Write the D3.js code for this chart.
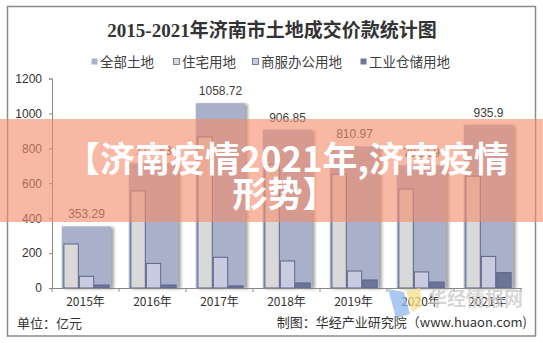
<!DOCTYPE html>
<html>
<head>
<meta charset="utf-8">
<script src="https://cdn.jsdelivr.net/npm/d3@7"></script>
<style>
  html, body { margin: 0; padding: 0; background: #fff; }
  svg { display: block; }
</style>
</head>
<body>
<svg id="chart" width="543" height="343"></svg>
<script>
// Jinan land transaction value by land use, 2015-2021 (unit: 100 million yuan)
const years = ["2015年", "2016年", "2017年", "2018年", "2019年", "2020年", "2021年"];
const totalLand = [353.29, 714.43, 1058.72, 906.85, 810.97, 702.59, 935.9];
const residential = [252, 556, 865, 706, 652, 567, 641];
const commercial = [67, 141, 176, 155, 97, 92, 181];
const industrial = [17, 17, 12, 29, 46, 34, 88];
const yTicks = [0, 200, 400, 600, 800, 1000, 1200];
const seriesNames = ["全部土地", "住宅用地", "商服办公用地", "工业仓储用地"];

const colors = {
  total: "#a9b1ca",
  residential: "#d9d9d9",
  commercial: "#c9cce1",
  industrial: "#6c7499",
  edge: "#5d6488"
};

const cjk = "'Noto Sans CJK SC', 'Liberation Sans', sans-serif";
const latin = "'Liberation Sans', 'Noto Sans CJK SC', sans-serif";

const svg = d3.select("#chart");

// shadow for the wide total bars
const defs = svg.append("defs");
const f = defs.append("filter").attr("id", "barShadow")
  .attr("x", "-10%").attr("y", "-10%").attr("width", "130%").attr("height", "130%");
f.append("feDropShadow").attr("dx", 3).attr("dy", 1).attr("stdDeviation", 1.6)
  .attr("flood-color", "#000").attr("flood-opacity", 0.35);

// outer frame
svg.append("rect").attr("x", 7.5).attr("y", 6.5).attr("width", 528).attr("height", 329.5)
  .attr("fill", "#fff").attr("stroke", "#8a8a8a").attr("stroke-width", 1.5);

// title
svg.append("text").attr("x", 272).attr("y", 37).attr("text-anchor", "middle")
  .attr("font-family", "'Liberation Serif', 'Noto Sans CJK SC', serif")
  .attr("font-weight", "bold").attr("font-size", 19).attr("fill", "#333")
  .text("2015-2021年济南市土地成交价款统计图");

// scales
const x = d3.scaleBand().domain(years).range([52, 521]).padding(0);
const y = d3.scaleLinear().domain([0, 1200]).range([288, 78.5]);
const bw = x.bandwidth();
const sub = d3.scaleBand().domain(["r", "c", "i"]).range([bw * 0.17, bw * 0.17 + bw * 0.69]).padding(0);

// legend
const legendItems = [
  { name: seriesNames[0], fill: colors.total, stroke: "none", x: 91 },
  { name: seriesNames[1], fill: colors.residential, stroke: colors.edge, x: 173 },
  { name: seriesNames[2], fill: colors.commercial, stroke: colors.edge, x: 252 },
  { name: seriesNames[3], fill: colors.industrial, stroke: "none", x: 360 }
];
const lg = svg.append("g");
legendItems.forEach(it => {
  lg.append("rect").attr("x", it.x + 0.5).attr("y", 58.5).attr("width", 6).attr("height", 6)
    .attr("fill", it.fill).attr("stroke", it.stroke).attr("stroke-width", 0.8);
  lg.append("text").attr("x", it.x + 9).attr("y", 66.5)
    .attr("font-family", cjk).attr("font-size", 13.5).attr("fill", "#404040")
    .text(it.name);
});

// y axis
const yAxis = svg.append("g").attr("transform", "translate(52,0)")
  .call(d3.axisLeft(y).tickValues(yTicks).tickSize(3).tickPadding(7).tickFormat(d3.format("d")));
yAxis.select(".domain").attr("stroke", "#888");
yAxis.selectAll(".tick line").attr("stroke", "#888");
yAxis.selectAll(".tick text").attr("font-family", latin).attr("font-size", 12).attr("fill", "#333");

// wide total bars
const plot = svg.append("g");
plot.selectAll("rect.total").data(years).join("rect")
  .attr("class", "total")
  .attr("x", d => x(d) + bw * 0.145)
  .attr("width", bw * 0.735)
  .attr("y", (d, i) => y(totalLand[i]))
  .attr("height", (d, i) => y(0) - y(totalLand[i]))
  .attr("fill", colors.total)
  .attr("filter", "url(#barShadow)");

// narrow bars per land use
const narrow = [
  { key: "r", vals: residential, fill: colors.residential },
  { key: "c", vals: commercial, fill: colors.commercial },
  { key: "i", vals: industrial, fill: colors.industrial }
];
narrow.forEach(s => {
  plot.selectAll("rect.s" + s.key).data(years).join("rect")
    .attr("class", "s" + s.key)
    .attr("x", d => x(d) + sub(s.key) + 0.5)
    .attr("width", sub.bandwidth() - 1)
    .attr("y", (d, i) => y(s.vals[i]))
    .attr("height", (d, i) => y(0) - y(s.vals[i]))
    .attr("fill", s.fill)
    .attr("stroke", colors.edge)
    .attr("stroke-width", 1);
});

// value labels on totals
plot.selectAll("text.val").data(years).join("text")
  .attr("class", "val")
  .attr("x", d => x(d) + bw / 2 + 1)
  .attr("y", (d, i) => y(totalLand[i]) - 8)
  .attr("text-anchor", "middle")
  .attr("font-family", latin).attr("font-size", 12).attr("fill", "#404040")
  .text((d, i) => totalLand[i]);

// x axis
const xAxis = svg.append("g").attr("transform", "translate(0,288)")
  .call(d3.axisBottom(x).tickSize(0).tickPadding(9));
xAxis.select(".domain").attr("stroke", "#888");
xAxis.selectAll(".tick text").attr("font-family", cjk).attr("font-size", 12).attr("fill", "#333");
svg.append("g").selectAll("line").data(years.concat(["end"])).join("line")
  .attr("x1", (d, i) => i < years.length ? x(d) : x(years[years.length - 1]) + bw)
  .attr("x2", (d, i) => i < years.length ? x(d) : x(years[years.length - 1]) + bw)
  .attr("y1", 288).attr("y2", 292)
  .attr("stroke", "#888");

// footer notes
svg.append("text").attr("x", 17).attr("y", 328)
  .attr("font-family", cjk).attr("font-size", 13).attr("fill", "#333").text("单位：亿元");
svg.append("text").attr("x", 527).attr("y", 327).attr("text-anchor", "end")
  .attr("font-family", cjk).attr("font-size", 13).attr("fill", "#333").text("制图：华经产业研究院（www.huaon.com)");

// watermark
const wm = svg.append("g").attr("opacity", 0.75);
wm.append("path").attr("d", "M388,289 L404,292 L410,314 L396,318 Z").attr("fill", "#8fb8f0");
wm.append("path").attr("d", "M406,291 L420,288 L422,306 L412,312 Z").attr("fill", "#f7e08a");
wm.append("text").attr("x", 428).attr("y", 306)
  .attr("font-family", cjk).attr("font-weight", "bold").attr("font-size", 19)
  .attr("fill", "#c9c9c9").text("华经情报网");

// promotional banner across the chart
svg.append("rect").attr("x", 0).attr("y", 119).attr("width", 543).attr("height", 103)
  .attr("fill", "rgb(244,140,108)").attr("opacity", 0.62);
const banner = svg.append("g").attr("font-family", cjk).attr("font-weight", "bold")
  .attr("font-size", 35).attr("fill", "#fff").attr("text-anchor", "middle");
banner.append("text").attr("x", 287).attr("y", 172).text("【济南疫情2021年,济南疫情");
banner.append("text").attr("x", 285).attr("y", 207).text("形势】");
</script>
</body>
</html>
